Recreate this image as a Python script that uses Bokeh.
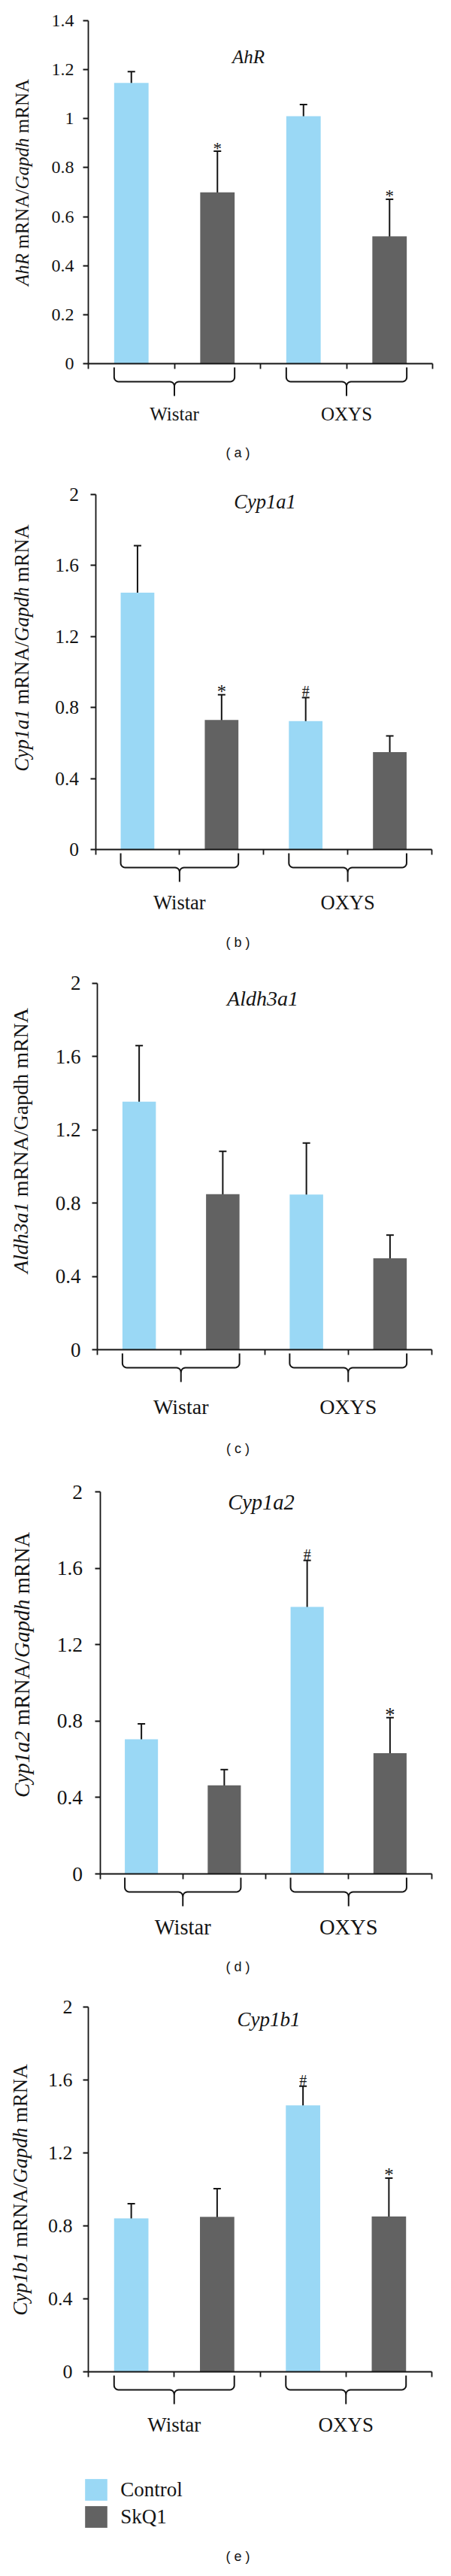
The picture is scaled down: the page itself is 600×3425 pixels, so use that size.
import math
from bokeh.plotting import figure
from bokeh.layouts import column
from bokeh.models import (Range1d, FixedTicker, CustomJSTickFormatter, Whisker, TeeHead,
                          ColumnDataSource, Legend, LegendItem)
from bokeh.core.properties import value
from bokeh.embed import file_html
from bokeh.resources import INLINE

# ------------------------------------------------------------------ data
groups = ["Wistar", "OXYS"]
series = ["Control", "SkQ1"]
genes = ["AhR", "Cyp1a1", "Aldh3a1", "Cyp1a2", "Cyp1b1"]
panel_tags = ["( a )", "( b )", "( c )", "( d )", "( e )"]

ahr_control = [1.146, 1.010]
ahr_control_err = [0.046, 0.048]
ahr_skq1 = [0.699, 0.520]
ahr_skq1_err = [0.168, 0.151]

cyp1a1_control = [1.447, 0.723]
cyp1a1_control_err = [0.265, 0.133]
cyp1a1_skq1 = [0.730, 0.549]
cyp1a1_skq1_err = [0.142, 0.091]

aldh3a1_control = [1.353, 0.846]
aldh3a1_control_err = [0.305, 0.281]
aldh3a1_skq1 = [0.848, 0.498]
aldh3a1_skq1_err = [0.234, 0.127]

cyp1a2_control = [0.705, 1.398]
cyp1a2_control_err = [0.080, 0.243]
cyp1a2_skq1 = [0.464, 0.632]
cyp1a2_skq1_err = [0.082, 0.186]

cyp1b1_control = [0.841, 1.461]
cyp1b1_control_err = [0.081, 0.105]
cyp1b1_skq1 = [0.849, 0.852]
cyp1b1_skq1_err = [0.155, 0.210]

ticks_ahr = [0, 0.2, 0.4, 0.6, 0.8, 1, 1.2, 1.4]
ticks_two = [0, 0.4, 0.8, 1.2, 1.6, 2]

# significance marks: (series, group index, symbol)
ahr_marks = [("SkQ1", 0, "*"), ("SkQ1", 1, "*")]
cyp1a1_marks = [("SkQ1", 0, "*"), ("Control", 1, "#")]
aldh3a1_marks = []
cyp1a2_marks = [("Control", 1, "#"), ("SkQ1", 1, "*")]
cyp1b1_marks = [("Control", 1, "#"), ("SkQ1", 1, "*")]

# y-axis label pieces (text, italic?) ; None = word space
ahr_ylabel = [("AhR", True), None, ("mRNA/", False), ("Gapdh", True), None, ("mRNA", False)]
cyp1a1_ylabel = [("Cyp1a1", True), None, ("mRNA/", False), ("Gapdh", True), None, ("mRNA", False)]
aldh3a1_ylabel = [("Aldh3a1", True), None, ("mRNA/Gapdh mRNA", False)]
cyp1a2_ylabel = [("Cyp1a2", True), None, ("mRNA/", False), ("Gapdh", True), None, ("mRNA", False)]
cyp1b1_ylabel = [("Cyp1b1", True), None, ("mRNA/", False), ("Gapdh", True), None, ("mRNA", False)]

# ------------------------------------------------------------------ style / layout
LIGHT = "#9AD8F5"
DARK = "#626262"
INK = "#141414"
SERIF = "Liberation Serif"
SANS = "Liberation Sans"
PAGE_W = 584

# Times-compatible advance widths (per 1000 em) for width estimates
REG_W = {' ': 250, 'm': 778, 'R': 667, 'N': 722, 'A': 722, '/': 278, 'G': 722,
         'a': 444, 'p': 500, 'd': 500, 'h': 500}
ITA_W = {'A': 611, 'h': 500, 'R': 611, 'G': 722, 'a': 500, 'p': 500, 'd': 500,
         'C': 667, 'y': 444, '1': 500, '2': 500, '3': 500, 'l': 278, 'b': 500}

# layout in page pixels (left axis x, right axis end, top tick y, zero y, figure top, height ...)
layouts = [
    dict(L=125, R=583, top=35, zero=491, T=8, H=632, fs=25, title=(338, 83),
         ylab=(36.5, 250), glab=67, tag_y=609, standoff=12),
    dict(L=134.5, R=582, top=665, zero=1137, T=640, H=655, fs=26.5, title=(360, 674),
         ylab=(36.5, 869), glab=70, tag_y=1260, standoff=15),
    dict(L=137, R=582, top=1314.5, zero=1802, T=1295, H=670, fs=28, title=(357, 1335),
         ylab=(35, 1524), glab=76, tag_y=1933, standoff=15),
    dict(L=140.5, R=581.5, top=1991, zero=2499, T=1965, H=690, fs=28.5, title=(355, 2005),
         ylab=(36.5, 2221), glab=71, tag_y=2622, standoff=16),
    dict(L=125, R=582, top=2676, zero=3161, T=2655, H=762, fs=27, title=(365, 2692),
         ylab=(34, 2919), glab=70, tag_y=3406, standoff=14),
]


def text_width(s, italic, fs):
    table = ITA_W if italic else REG_W
    return sum(table.get(ch, 500) for ch in s) * fs / 1000.0


def build(cfg, ctrl, ctrl_err, skq, skq_err, ticks, marks, ylabel, gene, tag, legend=False):
    L, R, zero = cfg["L"], cfg["R"], cfg["zero"]
    ncat = len(groups) * len(series)
    w = (R - L) / ncat
    k = (zero - cfg["top"]) / ticks[-1]
    T, H, fs = cfg["T"], cfg["H"], cfg["fs"]

    def dx(px):
        return (px - L) / w

    def dy(py):
        return (zero - py) / k

    p = figure(width=PAGE_W, height=H, x_range=Range1d(dx(8), dx(8 + PAGE_W)),
               y_range=Range1d(dy(T + H), dy(T)), output_backend="svg",
               toolbar_location=None, min_border=0, title=None)
    p.xgrid.visible = False
    p.ygrid.visible = False
    p.outline_line_color = None
    p.background_fill_color = "white"
    p.border_fill_color = "white"

    xs_c = [len(series) * g + 0.5 for g in range(len(groups))]
    xs_s = [len(series) * g + 1.5 for g in range(len(groups))]
    src_c = ColumnDataSource(dict(x=xs_c, top=ctrl,
                                  upper=[v + e for v, e in zip(ctrl, ctrl_err)],
                                  lower=[v - e for v, e in zip(ctrl, ctrl_err)]))
    src_s = ColumnDataSource(dict(x=xs_s, top=skq,
                                  upper=[v + e for v, e in zip(skq, skq_err)],
                                  lower=[v - e for v, e in zip(skq, skq_err)]))
    rc = p.vbar(x="x", top="top", bottom=0, width=0.4, source=src_c,
                fill_color=LIGHT, line_color=None)
    rs = p.vbar(x="x", top="top", bottom=0, width=0.4, source=src_s,
                fill_color=DARK, line_color=None)
    for src in (src_c, src_s):
        p.add_layout(Whisker(source=src, base="x", upper="upper", lower="lower",
                             line_width=2, line_color=INK,
                             upper_head=TeeHead(size=10, line_width=2, line_color=INK),
                             lower_head=TeeHead(size=10, line_width=2, line_color=INK)))

    # axes
    ya = p.yaxis[0]
    ya.fixed_location = 0
    ya.bounds = (0, ticks[-1])
    ya.ticker = FixedTicker(ticks=ticks, minor_ticks=[])
    ya.formatter = CustomJSTickFormatter(code="return String(Math.round(tick*10)/10);")
    ya.major_tick_out = 7
    ya.major_tick_in = 0
    ya.minor_tick_out = 0
    ya.minor_tick_in = 0
    ya.axis_line_width = 1.8
    ya.axis_line_color = INK
    ya.major_tick_line_width = 1.8
    ya.major_tick_line_color = INK
    ya.major_label_text_font = SERIF
    ya.major_label_text_font_size = f"{fs - 1}px"
    ya.major_label_text_color = INK
    ya.major_label_standoff = cfg["standoff"]

    xa = p.xaxis[0]
    xa.fixed_location = 0
    xa.bounds = (0, ncat)
    xa.ticker = FixedTicker(ticks=list(range(ncat + 1)), minor_ticks=[])
    xa.formatter = CustomJSTickFormatter(code="return '';")
    xa.major_tick_out = 7
    xa.major_tick_in = 0
    xa.minor_tick_out = 0
    xa.minor_tick_in = 0
    xa.axis_line_width = 1.8
    xa.axis_line_color = INK
    xa.major_tick_line_width = 1.8
    xa.major_tick_line_color = INK

    # gene title
    tx, ty = cfg["title"]
    p.text(x=[dx(tx)], y=[dy(ty)], text=[gene], text_font=value(SERIF),
           text_font_style="italic", text_font_size=f"{fs}px",
           text_align="center", text_baseline="middle", text_color=INK)

    # significance marks
    for ser, g, sym in marks:
        if ser == "Control":
            xv, top_v = xs_c[g], ctrl[g] + ctrl_err[g]
        else:
            xv, top_v = xs_s[g], skq[g] + skq_err[g]
        gap = 8 if sym == "#" else 4
        size = 20 if sym == "#" else fs - 2
        p.text(x=[xv], y=[top_v + gap / k], text=[sym], text_font=value(SERIF),
               text_font_size=f"{size}px", text_align="center",
               text_baseline="alphabetic", text_color=INK)

    # braces under each group
    r = 6.0
    bx, by = [], []
    for g in range(len(groups)):
        x0 = L + (len(series) * g + 0.3) * w
        x1 = L + (len(series) * g + 1.7) * w
        xc = L + (len(series) * g + 1.0) * w
        top, hor, tip = zero + 5, zero + 24, zero + 43

        def arc(cx, cy, a0, a1, n=6):
            return [(cx + r * math.cos(a0 + (a1 - a0) * i / n),
                     cy + r * math.sin(a0 + (a1 - a0) * i / n)) for i in range(n + 1)]
        left = [(x0, top)] + arc(x0 + r, hor - r, math.pi, math.pi / 2) + \
               arc(xc - r, hor + r, -math.pi / 2, 0) + [(xc, tip)]
        right = [(x1, top)] + arc(x1 - r, hor - r, 0, math.pi / 2) + \
                arc(xc + r, hor + r, -math.pi / 2, -math.pi)
        for pts in (left, right):
            bx.append([dx(a) for a, b in pts])
            by.append([dy(b) for a, b in pts])
    p.multi_line(xs=bx, ys=by, line_width=2, line_color=INK)

    # group labels
    p.text(x=[len(series) * g + 1.0 for g in range(len(groups))],
           y=[dy(zero + cfg["glab"])] * len(groups), text=groups,
           text_font=value(SERIF), text_font_size=f"{fs}px", text_align="center",
           text_baseline="middle", text_color=INK)

    # panel tag
    p.text(x=[dx(324)], y=[dy(cfg["tag_y"])], text=[tag], text_font=value(SANS),
           text_font_size="18px", text_align="center", text_baseline="middle",
           text_color=INK)

    # rotated y label with mixed italics
    lx, lyc = cfg["ylab"]
    widths = []
    for piece in ylabel:
        if piece is None:
            widths.append(REG_W[' '] * fs / 1000.0)
        else:
            widths.append(text_width(piece[0], piece[1], fs))
    total = sum(widths)
    cum = 0.0
    for piece, wd in zip(ylabel, widths):
        if piece is not None:
            start_py = lyc + total / 2.0 - cum
            p.text(x=[dx(lx)], y=[dy(start_py)], text=[piece[0]], angle=math.pi / 2,
                   text_font=value(SERIF),
                   text_font_style="italic" if piece[1] else "normal",
                   text_font_size=f"{fs}px", text_align="left", text_baseline="middle",
                   text_color=INK)
        cum += wd

    if legend:
        leg = Legend(items=[LegendItem(label=series[0], renderers=[rc]),
                            LegendItem(label=series[1], renderers=[rs])],
                     location=(109.25, 44.6), orientation="vertical",
                     glyph_width=37, glyph_height=36, label_height=36, spacing=0,
                     label_standoff=14, label_text_font=SERIF, label_text_font_size="27px",
                     label_text_color=INK, label_text_baseline="middle",
                     padding=0, margin=0, border_line_color=None,
                     background_fill_alpha=0)
        p.add_layout(leg)
    return p


figs = [
    build(layouts[0], ahr_control, ahr_control_err, ahr_skq1, ahr_skq1_err,
          ticks_ahr, ahr_marks, ahr_ylabel, genes[0], panel_tags[0]),
    build(layouts[1], cyp1a1_control, cyp1a1_control_err, cyp1a1_skq1, cyp1a1_skq1_err,
          ticks_two, cyp1a1_marks, cyp1a1_ylabel, genes[1], panel_tags[1]),
    build(layouts[2], aldh3a1_control, aldh3a1_control_err, aldh3a1_skq1, aldh3a1_skq1_err,
          ticks_two, aldh3a1_marks, aldh3a1_ylabel, genes[2], panel_tags[2]),
    build(layouts[3], cyp1a2_control, cyp1a2_control_err, cyp1a2_skq1, cyp1a2_skq1_err,
          ticks_two, cyp1a2_marks, cyp1a2_ylabel, genes[3], panel_tags[3]),
    build(layouts[4], cyp1b1_control, cyp1b1_control_err, cyp1b1_skq1, cyp1b1_skq1_err,
          ticks_two, cyp1b1_marks, cyp1b1_ylabel, genes[4], panel_tags[4], legend=True),
]

layout = column(*figs, spacing=0)
open("out.html", "w").write(file_html(layout, INLINE))
